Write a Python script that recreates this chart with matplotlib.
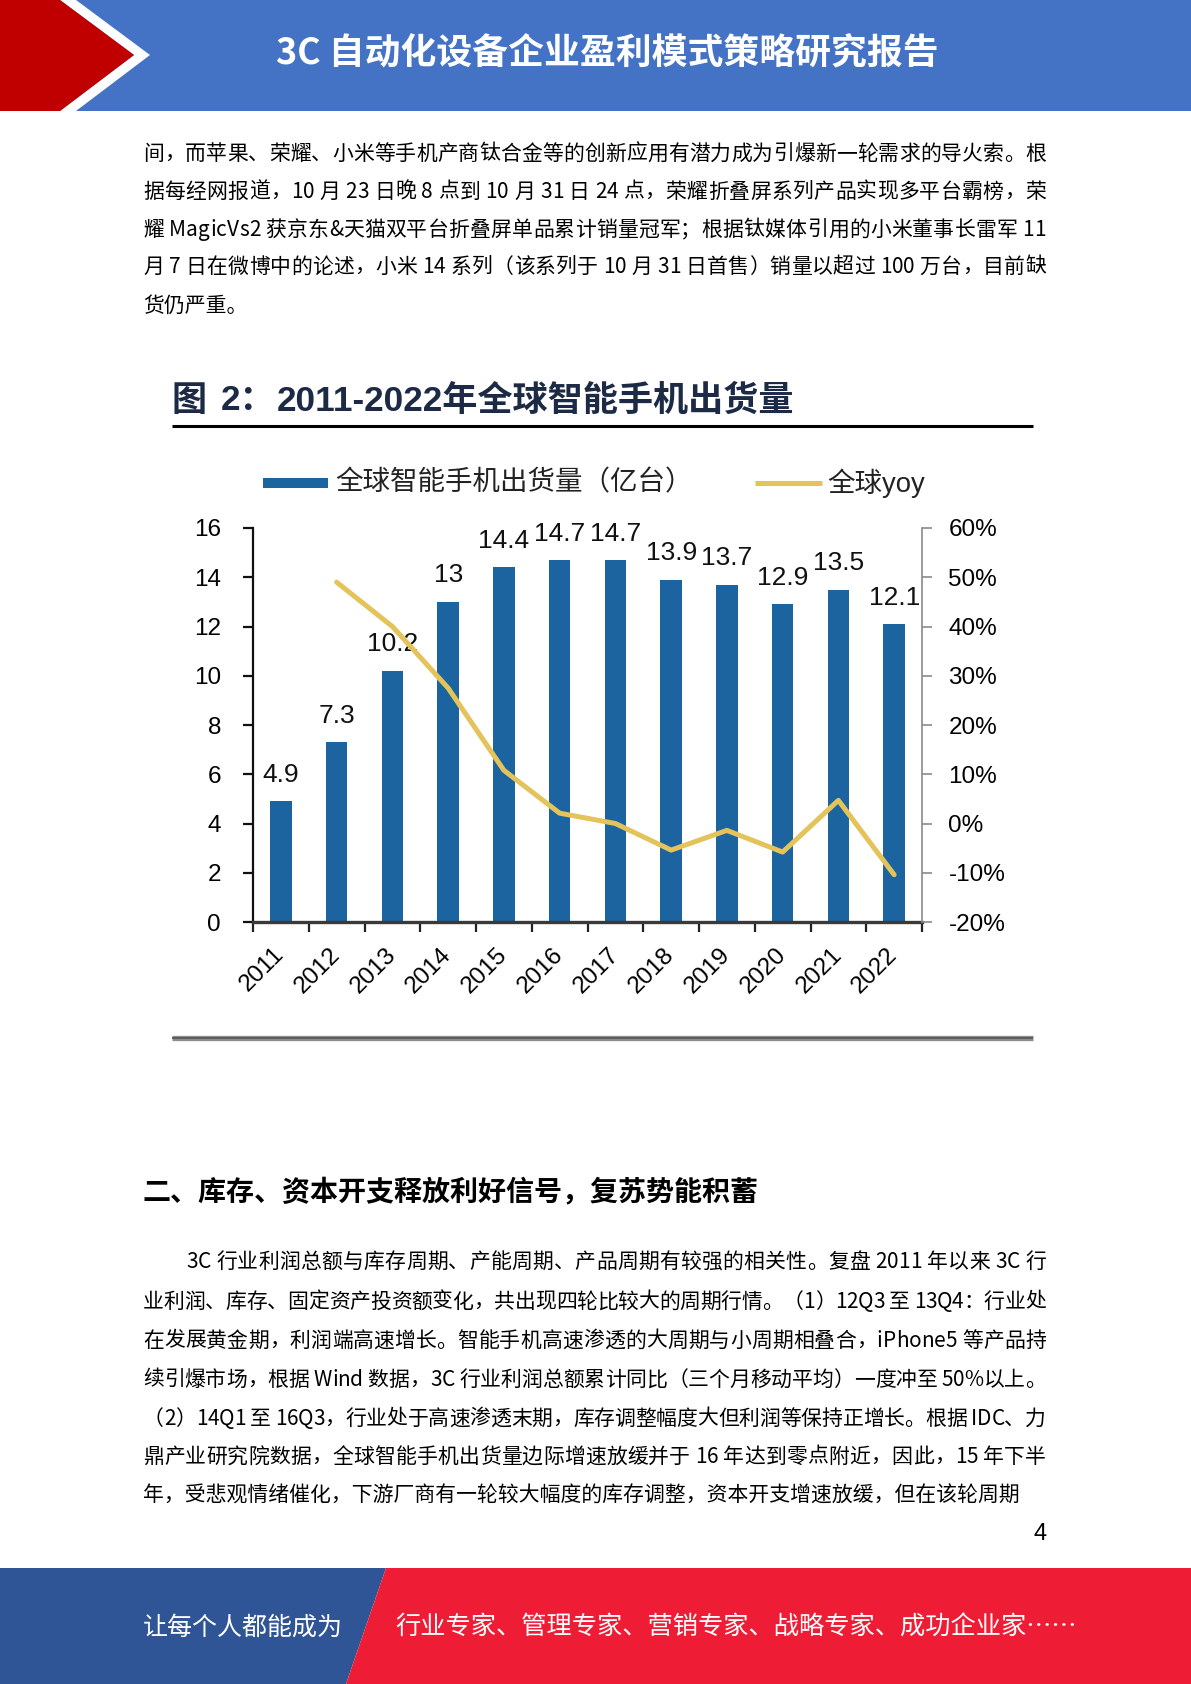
import matplotlib
matplotlib.use('Agg')
import matplotlib.pyplot as plt
from matplotlib.font_manager import FontProperties
from matplotlib.patches import Polygon, Rectangle
import numpy as np

# ---------------- data ----------------
years = ['2011', '2012', '2013', '2014', '2015', '2016', '2017', '2018', '2019', '2020', '2021', '2022']
shipments = [4.9, 7.3, 10.2, 13, 14.4, 14.7, 14.7, 13.9, 13.7, 12.9, 13.5, 12.1]
yoy = [np.nan, 49, 40, 27.5, 10.8, 2.1, 0, -5.4, -1.4, -5.8, 4.7, -10.4]
left_ticks = [0, 2, 4, 6, 8, 10, 12, 14, 16]
right_ticks = [-20, -10, 0, 10, 20, 30, 40, 50, 60]

header_title = '3C 自动化设备企业盈利模式策略研究报告'
chart_title_parts = ['图', '2：', '2011-2022年全球智能手机出货量']
legend_bar = '全球智能手机出货量（亿台）'
legend_line = '全球yoy'
section_title = '二、库存、资本开支释放利好信号，复苏势能积蓄'
para1 = [
    '间，而苹果、荣耀、小米等手机产商钛合金等的创新应用有潜力成为引爆新一轮需求的导火索。根',
    '据每经网报道，10 月 23 日晚 8 点到 10 月 31 日 24 点，荣耀折叠屏系列产品实现多平台霸榜，荣',
    '耀 MagicVs2 获京东&天猫双平台折叠屏单品累计销量冠军；根据钛媒体引用的小米董事长雷军 11',
    '月 7 日在微博中的论述，小米 14 系列（该系列于 10 月 31 日首售）销量以超过 100 万台，目前缺',
    '货仍严重。',
]
para2 = [
    '3C 行业利润总额与库存周期、产能周期、产品周期有较强的相关性。复盘 2011 年以来 3C 行',
    '业利润、库存、固定资产投资额变化，共出现四轮比较大的周期行情。（1）12Q3 至 13Q4：行业处',
    '在发展黄金期，利润端高速增长。智能手机高速渗透的大周期与小周期相叠合，iPhone5 等产品持',
    '续引爆市场，根据 Wind 数据，3C 行业利润总额累计同比（三个月移动平均）一度冲至 50%以上。',
    '（2）14Q1 至 16Q3，行业处于高速渗透末期，库存调整幅度大但利润等保持正增长。根据 IDC、力',
    '鼎产业研究院数据，全球智能手机出货量边际增速放缓并于 16 年达到零点附近，因此，15 年下半',
    '年，受悲观情绪催化，下游厂商有一轮较大幅度的库存调整，资本开支增速放缓，但在该轮周期',
]
footer_left = '让每个人都能成为'
footer_right = '行业专家、管理专家、营销专家、战略专家、成功企业家……'
page_no = '4'

# ---------------- style ----------------
BAR = '#1B64A0'
LINE = '#E3C35A'
CJK = ['Noto Sans CJK SC']
LAT = ['Liberation Sans', 'Noto Sans CJK SC']

W, H = 1191, 1684
fig = plt.figure(figsize=(W / 100, H / 100), dpi=100)
bg = fig.add_axes([0, 0, 1, 1], zorder=0)
bg.set_xlim(0, W)
bg.set_ylim(H, 0)
bg.axis('off')

renderer = fig.canvas.get_renderer()


def text_w(s, fp):
    if s == '':
        return 0.0
    w, h, d = renderer.get_text_width_height_descent(s, fp, ismath=False)
    return w


def draw_line(s, x0, y, fs, x1=None, fam=CJK, color='black', weight='normal'):
    fp = FontProperties(family=fam, size=fs, weight=weight)
    base = y + fs * 100 / 72 * 0.37
    if x1 is None:
        bg.text(x0, base, s, fontproperties=fp, ha='left', va='baseline', color=color)
        return
    n = len(s)
    natural = text_w(s, fp)
    extra = (x1 - x0 - natural) / (n - 1) if n > 1 else 0
    for i, ch in enumerate(s):
        if ch == ' ':
            continue
        xp = x0 + text_w(s[:i], fp) + i * extra
        bg.text(xp, base, ch, fontproperties=fp, ha='left', va='baseline', color=color)


# ---------------- header ----------------
bg.add_patch(Rectangle((0, 0), W, 111, color='#4472C4', lw=0))
bg.add_patch(Polygon([(60, 0), (76, 0), (150, 55), (76, 111), (60, 111), (134, 55)],
                     closed=True, color='white', lw=0))
bg.add_patch(Polygon([(0, 0), (60, 0), (134, 55), (60, 111), (0, 111)],
                     closed=True, color='#C00000', lw=0))
bg.text(607, 54, header_title, family=CJK, weight='bold', fontsize=25.8,
        color='white', ha='center', va='center')

# ---------------- paragraph 1 ----------------
p1_y = [152, 190, 228, 265, 304]
for i, (s, y) in enumerate(zip(para1, p1_y)):
    draw_line(s, 143, y, 15, x1=None if i == len(para1) - 1 else 1046)

# ---------------- chart frame ----------------
TITLE_C = '#1C2A46'
for part, xp in zip(chart_title_parts, [172, 221, 277]):
    bg.text(xp, 401, part, family=LAT, weight='bold', fontsize=25.3,
            color=TITLE_C, ha='left', va='center')
bg.plot([172, 1033], [426, 426], color='black', lw=2.2, solid_capstyle='butt')
bg.plot([172, 1033], [1038, 1038], color='#8c8c8c', lw=3.8, solid_capstyle='butt')
bg.plot([172, 1033], [1038, 1038], color='#555555', lw=1.2, solid_capstyle='butt')

# legend
bg.add_patch(Rectangle((263, 478), 65, 10, color=BAR, lw=0))
bg.text(335, 483, legend_bar, family=CJK, fontsize=19.8, color='#222222',
        ha='left', va='center')
bg.plot([755, 822], [483, 483], color=LINE, lw=3.6, solid_capstyle='butt')
bg.text(827, 483, legend_line, family=LAT, fontsize=19.8, color='#222222',
        ha='left', va='center')

# ---------------- chart ----------------
ax = fig.add_axes([253 / W, 1 - 922 / H, (922 - 253) / W, (922 - 528) / H], zorder=2)
ax.patch.set_alpha(0)
x = np.arange(len(years))
ax.bar(x, shipments, width=0.39, color=BAR, zorder=2)
for xi, v in zip(x, shipments):
    ax.annotate(f'{v:g}', (xi, v), xytext=(0, 14), textcoords='offset points',
                ha='center', va='baseline', fontsize=19, family=LAT, color='#111111')
ax.set_xlim(-0.5, len(years) - 0.5)
ax.set_ylim(0, 16)
ax.set_yticks(left_ticks)
ax.set_yticklabels([str(t) for t in left_ticks], family=LAT, fontsize=17.5)
ax.set_xticks(x)
ax.set_xticklabels(years, rotation=45, ha='right', va='center', rotation_mode='anchor',
                   family=LAT, fontsize=17.5)
ax.set_xticks(np.arange(-0.5, len(years), 1), minor=True)
ax.tick_params(axis='x', which='major', length=0, pad=21)
ax.tick_params(axis='x', which='minor', length=7, width=1.6, direction='out', color='#222222')
ax.tick_params(axis='y', length=7, width=1.6, direction='out', pad=16, color='#111111')
ax.spines['top'].set_visible(False)
ax.spines['right'].set_visible(False)
ax.spines['left'].set_linewidth(1.6)
ax.spines['left'].set_color('#111111')
ax.spines['bottom'].set_linewidth(2.4)
ax.spines['bottom'].set_color('#3a3a3a')

ax2 = ax.twinx()
ax2.plot(x, yoy, color=LINE, lw=3.6, zorder=3, solid_capstyle='round')
ax2.set_ylim(-20, 60)
ax2.set_yticks(right_ticks)
ax2.set_yticklabels([f'{t}%' for t in right_ticks], family=LAT, fontsize=17.5)
ax2.tick_params(axis='y', length=7, width=1.2, direction='out', pad=12, color='#8a8a8a')
for side in ['left', 'top', 'bottom']:
    ax2.spines[side].set_visible(False)
ax2.spines['right'].set_color('#8a8a8a')
ax2.spines['right'].set_linewidth(1.2)

# ---------------- section 2 ----------------
draw_line(section_title, 143, 1190, 20.2, fam=CJK, weight='bold')
p2_y = [1260, 1300, 1339, 1378, 1417, 1455, 1494]
for i, (s, y) in enumerate(zip(para2, p2_y)):
    x0 = 186 if i == 0 else 143
    x1 = None if i == len(para2) - 1 else 1046
    draw_line(s, x0, y, 15, x1=x1)

bg.text(1040, 1534, page_no, family=LAT, fontsize=17, color='black', ha='center', va='center')

# ---------------- footer ----------------
bg.add_patch(Polygon([(0, 1568), (386, 1568), (346, H), (0, H)], closed=True, color='#2F5597', lw=0))
bg.add_patch(Polygon([(386, 1568), (W, 1568), (W, H), (346, H)], closed=True, color='#EE1C35', lw=0))
bg.text(143, 1628, footer_left, family=CJK, fontsize=18, color='white', ha='left', va='center')
bg.text(395, 1628, footer_right, family=CJK, fontsize=18.2, color='white', ha='left', va='center')

fig.savefig('out.png', dpi=100)
